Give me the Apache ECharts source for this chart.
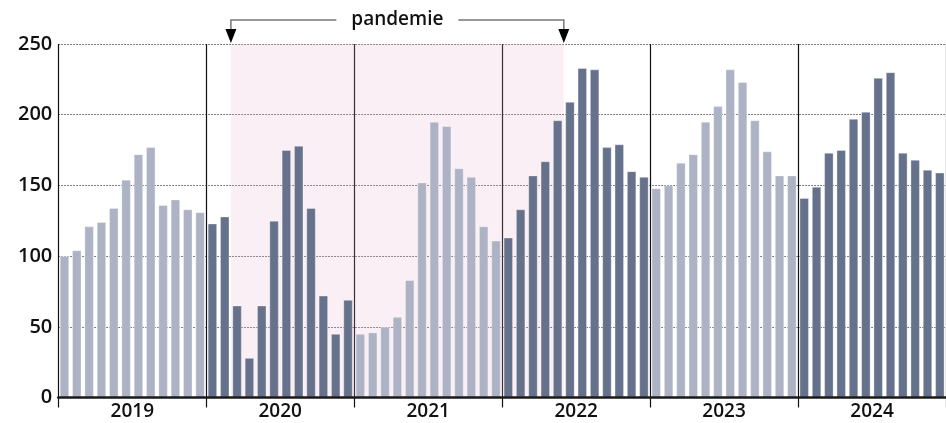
<!DOCTYPE html>
<html>
<head>
<meta charset="utf-8">
<script src="https://cdn.jsdelivr.net/npm/echarts@6/dist/echarts.min.js"></script>
<style>
html,body{margin:0;padding:0;background:#fff;}
#chart{width:946px;height:423px;}
</style>
</head>
<body>
<div id="chart"></div>
<script>
var years = ['2019','2020','2021','2022','2023','2024'];
var v2019 = [100,104,121,124,134,154,172,177,136,140,133,131];
var v2020 = [123,128,65,28,65,125,175,178,134,72,45,69];
var v2021 = [45,46,50,57,83,152,195,192,162,156,121,111];
var v2022 = [113,133,157,167,196,209,233,232,177,179,160,156];
var v2023 = [148,150,166,172,195,206,232,223,196,174,157,157];
var v2024 = [141,149,173,175,197,202,226,230,173,168,161,159];
var yTicks = [0,50,100,150,200,250];
var annotationText = 'pandemie';
var pandemicStart = 14; // month index (March 2020)
var pandemicEnd = 41;   // month index (June 2022, exclusive)

var yearValues = [v2019,v2020,v2021,v2022,v2023,v2024];
var months = [];
var values = [];
yearValues.forEach(function(arr, yi){
  arr.forEach(function(v, mi){
    months.push(years[yi] + '-' + (mi+1));
    values.push({value: v, yi: yi});
  });
});
var LIGHT = '#adb3c5', DARK = '#66728c';
var FONT = 'Open Sans';

var chart = echarts.init(document.getElementById('chart'));
var option = {
  animation: false,
  grid: {left: 58.3, width: 890, top: 44, bottom: 25.5},
  xAxis: [
    {type: 'category', data: months, boundaryGap: true, z: 5,
     axisLine: {show: true, lineStyle: {color: '#1a1a1a', width: 2.5}},
     axisTick: {show: false}, axisLabel: {show: false}, splitLine: {show: false}},
    {type: 'category', data: years, position: 'bottom',
     axisLine: {show: false}, axisTick: {show: false},
     axisLabel: {show: true, color: '#111', fontFamily: FONT, fontSize: 19, fontWeight: 600, margin: 5}},
    {type: 'value', min: 0, max: 72, interval: 12, position: 'bottom',
     axisLine: {show: false},
     axisTick: {show: true, length: 10, lineStyle: {color: '#111', width: 1.2}},
     axisLabel: {show: false},
     splitLine: {show: true, lineStyle: {color: '#111', width: 1.2, type: 'solid'}}}
  ],
  yAxis: {
    type: 'value', min: 0, max: 250, interval: 50,
    axisLine: {show: false}, axisTick: {show: false},
    axisLabel: {color: '#111', fontFamily: FONT, fontSize: 20, fontWeight: 600, margin: 6,
      formatter: function(v){ return yTicks.indexOf(v) >= 0 ? String(v) : ''; }},
    splitLine: {show: true, lineStyle: {color: '#555', type: [1.5, 1.5], width: 1}}
  },
  series: [
    {type: 'line', xAxisIndex: 2, data: [], silent: true,
     markArea: {silent: true, itemStyle: {color: 'rgba(228,175,198,0.2)'},
       data: [[{xAxis: pandemicStart}, {xAxis: pandemicEnd}]]}},
    {type: 'bar', xAxisIndex: 0, barWidth: 9.3, data: values,
     itemStyle: {
       color: function(p){ return p.data.yi % 2 === 0 ? LIGHT : DARK; },
       borderColor: 'rgba(255,255,255,0.4)', borderWidth: 0.8
     }}
  ]
};
chart.setOption(option);

var xs = chart.convertToPixel({xAxisIndex: 2}, pandemicStart);
var xe = chart.convertToPixel({xAxisIndex: 2}, pandemicEnd);
var xm = (xs + xe) / 2;
var lineY = 20, arrowTop = 29, arrowTip = 43, halfW = 5.5, textGap = 61;
chart.setOption({
  graphic: [
    {type: 'polyline', shape: {points: [[xs, arrowTop], [xs, lineY], [xm - textGap, lineY]]},
     style: {stroke: '#777', lineWidth: 1.5, fill: null}},
    {type: 'polyline', shape: {points: [[xm + textGap, lineY], [xe, lineY], [xe, arrowTop]]},
     style: {stroke: '#777', lineWidth: 1.5, fill: null}},
    {type: 'polygon', shape: {points: [[xs - halfW, arrowTop], [xs + halfW, arrowTop], [xs, arrowTip]]},
     style: {fill: '#000'}},
    {type: 'polygon', shape: {points: [[xe - halfW, arrowTop], [xe + halfW, arrowTop], [xe, arrowTip]]},
     style: {fill: '#000'}},
    {type: 'text', x: xm, y: lineY,
     style: {text: annotationText, fill: '#111', font: '600 19px "Open Sans"', align: 'center', verticalAlign: 'middle'}}
  ]
});
</script>
</body>
</html>
